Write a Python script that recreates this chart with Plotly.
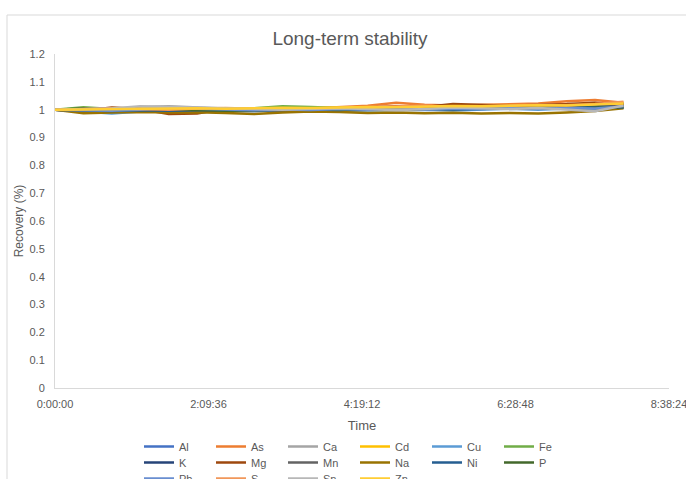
import plotly.graph_objects as go

times_min = [0, 24, 48, 72, 96, 120, 144, 168, 192, 216, 240, 264, 288, 312, 336, 360, 384, 408, 432, 456, 480]

series_names = ["Al", "As", "Ca", "Cd", "Cu", "Fe", "K", "Mg", "Mn", "Na", "Ni", "P", "Pb", "S", "Sn", "Zn"]

Al = [1.000, 0.995, 0.990, 0.995, 0.998, 1.000, 0.998, 0.995, 0.998, 1.000, 1.002, 1.005, 1.003, 1.006, 1.004, 1.006, 1.008, 1.006, 1.010, 1.005, 1.012]
As = [1.000, 1.002, 0.998, 1.000, 0.995, 0.998, 1.003, 1.002, 1.000, 1.004, 1.008, 1.014, 1.025, 1.018, 1.015, 1.017, 1.020, 1.022, 1.030, 1.035, 1.025]
Ca = [1.000, 0.998, 1.002, 1.010, 1.012, 1.008, 1.002, 1.000, 1.003, 1.006, 1.004, 1.008, 1.010, 1.006, 1.012, 1.010, 1.014, 1.016, 1.018, 1.010, 1.020]
Cd = [1.000, 1.000, 1.002, 1.003, 1.001, 1.003, 1.005, 1.002, 1.006, 1.005, 1.008, 1.007, 1.010, 1.009, 1.012, 1.011, 1.014, 1.013, 1.016, 1.017, 1.020]
Cu = [1.000, 0.992, 0.986, 0.993, 0.997, 0.995, 0.993, 0.995, 0.997, 0.996, 0.995, 0.997, 0.999, 1.000, 0.997, 1.000, 1.003, 1.000, 1.004, 1.002, 1.008]
Fe = [1.000, 1.009, 1.002, 0.998, 1.000, 1.002, 0.998, 1.004, 1.012, 1.010, 1.006, 1.008, 1.005, 1.007, 1.010, 1.008, 1.012, 1.010, 1.014, 1.016, 1.022]
K = [1.000, 1.002, 1.000, 1.001, 0.998, 1.000, 1.002, 0.999, 1.001, 1.003, 1.002, 1.005, 1.004, 1.006, 1.005, 1.008, 1.007, 1.010, 1.009, 1.012, 1.015]
Mg = [1.000, 0.996, 1.008, 1.002, 0.984, 0.986, 1.004, 1.002, 0.998, 1.000, 1.003, 1.008, 1.012, 1.010, 1.020, 1.016, 1.014, 1.018, 1.020, 1.025, 1.018]
Mn = [1.000, 0.995, 0.997, 0.999, 0.996, 0.998, 1.000, 0.997, 0.999, 1.001, 1.000, 1.002, 1.001, 1.003, 1.002, 1.004, 1.003, 1.005, 1.004, 1.006, 1.008]
Na = [1.000, 0.987, 0.990, 0.992, 0.990, 0.991, 0.988, 0.984, 0.990, 0.993, 0.992, 0.988, 0.990, 0.987, 0.989, 0.986, 0.988, 0.986, 0.990, 0.995, 1.005]
Ni = [1.000, 0.997, 0.995, 0.998, 0.996, 0.998, 1.000, 0.998, 0.999, 1.001, 0.999, 1.003, 1.002, 1.004, 1.001, 1.003, 1.005, 1.004, 1.006, 1.010, 1.008]
P = [1.000, 1.004, 0.998, 1.000, 1.002, 0.999, 0.996, 0.998, 1.002, 1.004, 1.001, 1.003, 1.000, 1.004, 1.006, 1.003, 1.005, 1.007, 1.004, 1.008, 1.010]
Pb = [1.000, 0.998, 0.996, 1.000, 1.005, 1.003, 1.000, 0.998, 1.001, 0.999, 1.002, 1.000, 1.003, 1.001, 1.004, 1.002, 1.005, 1.003, 1.006, 1.004, 1.012]
S = [1.000, 1.003, 1.005, 1.002, 1.000, 1.004, 1.006, 1.003, 1.005, 1.004, 1.006, 1.010, 1.012, 1.014, 1.010, 1.013, 1.015, 1.018, 1.016, 1.020, 1.028]
Sn = [1.000, 1.002, 1.004, 1.012, 1.010, 1.006, 1.004, 1.002, 1.000, 1.003, 1.005, 1.002, 0.998, 1.002, 1.008, 1.005, 1.002, 1.006, 1.000, 0.994, 1.015]
Zn = [1.000, 1.001, 1.003, 1.002, 1.004, 1.005, 1.003, 1.006, 1.007, 1.006, 1.009, 1.010, 1.009, 1.012, 1.013, 1.012, 1.015, 1.016, 1.015, 1.018, 1.022]

series_values = [Al, As, Ca, Cd, Cu, Fe, K, Mg, Mn, Na, Ni, P, Pb, S, Sn, Zn]

colors = ["#4472C4", "#ED7D31", "#A5A5A5", "#FFC000", "#5B9BD5", "#70AD47",
          "#264478", "#9E480E", "#636363", "#997300", "#255E91", "#43682B",
          "#698ED0", "#F1975A", "#B7B7B7", "#FFCD33"]

x_tick_labels = ["0:00:00", "2:09:36", "4:19:12", "6:28:48", "8:38:24"]
y_tick_vals = [0, 0.1, 0.2, 0.3, 0.4, 0.5, 0.6, 0.7, 0.8, 0.9, 1.0, 1.1, 1.2]
y_tick_text = ["0", "0.1", "0.2", "0.3", "0.4", "0.5", "0.6", "0.7", "0.8", "0.9", "1", "1.1", "1.2"]


def to_minutes(s):
    h, m, sec = s.split(":")
    return int(h) * 60 + int(m) + int(sec) / 60.0


x_tick_vals = [to_minutes(s) for s in x_tick_labels]

FONT = "Liberation Sans, Arial, sans-serif"
TXT = "#595959"

W, H = 686, 479
ml, mr, mt, mb = 55, 17, 54, 91
pw = W - ml - mr
ph = H - mt - mb

legend_ids = ["legend", "legend2", "legend3"]
row_tops = [432, 448, 464]

fig = go.Figure()
for i, (name, vals, col) in enumerate(zip(series_names, series_values, colors)):
    fig.add_trace(go.Scatter(x=times_min, y=vals, mode="lines", name=name,
                             line=dict(color=col, width=2.5),
                             legend=legend_ids[i // 6]))


def legend_cfg(top_px):
    return dict(orientation="h", x=(139 - ml) / pw, xanchor="left",
                y=-(top_px - (H - mb)) / ph, yanchor="top",
                entrywidth=27, entrywidthmode="pixels",
                font=dict(size=11, color=TXT), tracegroupgap=0,
                bgcolor="rgba(0,0,0,0)")


fig.update_layout(
    width=W, height=H,
    margin=dict(l=ml, r=mr, t=mt, b=mb, autoexpand=False),
    paper_bgcolor="white", plot_bgcolor="white",
    font=dict(family=FONT, color=TXT, size=11),
    title=dict(text="Long-term stability", x=(350 - ml) / pw, xref="paper",
               xanchor="center", y=1 - 38 / H, yanchor="middle",
               font=dict(size=19, color=TXT, family=FONT)),
    xaxis=dict(range=[x_tick_vals[0], x_tick_vals[-1]], tickvals=x_tick_vals,
               ticktext=x_tick_labels, showgrid=False, zeroline=False,
               showline=True, linecolor="#D9D9D9", linewidth=1, ticks="",
               ticklabelstandoff=6, ticklabeloverflow="allow",
               tickfont=dict(size=11, color=TXT),
               title=dict(text="Time", font=dict(size=13, color=TXT), standoff=11)),
    yaxis=dict(range=[0, 1.2], tickvals=y_tick_vals, ticktext=y_tick_text,
               showgrid=False, zeroline=False, showline=True, linecolor="#D9D9D9",
               linewidth=1, ticks="", ticklabelstandoff=7,
               tickfont=dict(size=11, color=TXT),
               title=dict(text="Recovery (%)", font=dict(size=12, color=TXT), standoff=3)),
    legend=legend_cfg(row_tops[0]),
    legend2=legend_cfg(row_tops[1]),
    legend3=legend_cfg(row_tops[2]),
    showlegend=True,
)

fig.add_shape(type="rect", xref="paper", yref="paper",
              x0=(7 - ml) / pw, x1=(W + 5 - ml) / pw,
              y0=(H - mb - (H + 5)) / ph, y1=(H - mb - 15) / ph,
              line=dict(color="#D9D9D9", width=1), fillcolor="rgba(0,0,0,0)", layer="below")

fig.write_html("out.html", config={"displayModeBar": False},
               post_script="document.body.style.margin='0';")
